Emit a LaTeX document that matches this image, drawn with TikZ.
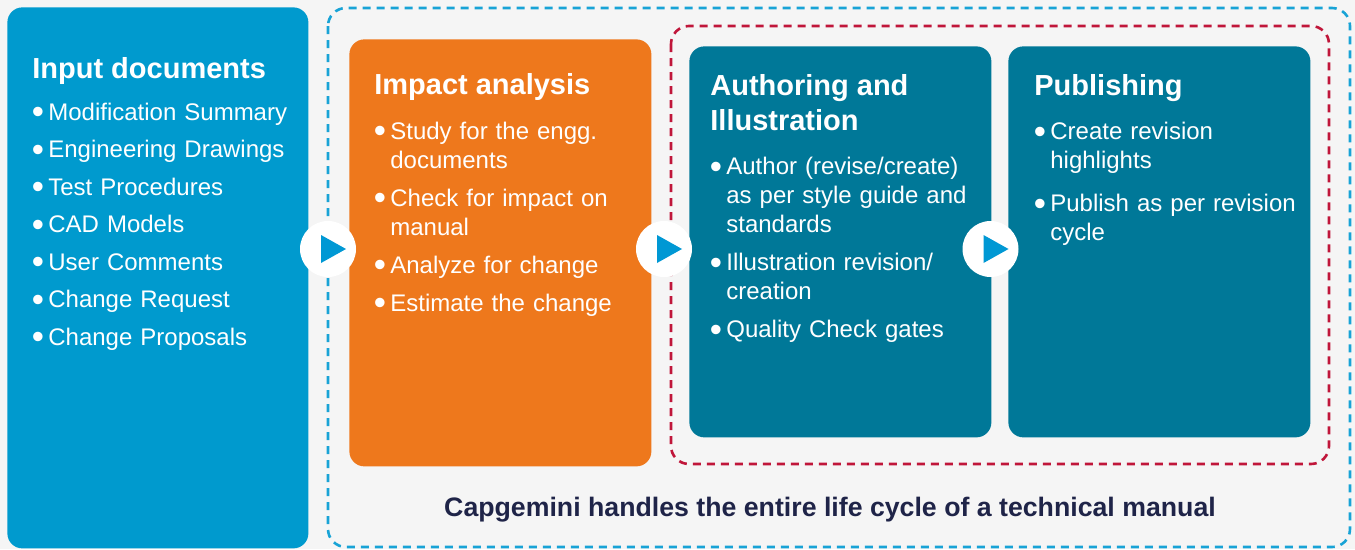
\documentclass[tikz,border=0pt]{standalone}
\usepackage{fontspec}
\setmainfont{Liberation Sans}
\usetikzlibrary{positioning}
\tikzset{every picture/.style={line width=0.75pt}}

\definecolor{bgGray}{RGB}{245,245,245}
\definecolor{inBlue}{RGB}{0,154,206}
\definecolor{impOrange}{RGB}{238,120,28}
\definecolor{tealBox}{RGB}{0,120,152}
\definecolor{dashBlue}{RGB}{24,163,214}
\definecolor{dashRed}{RGB}{192,22,58}
\definecolor{navy}{RGB}{31,36,72}
\definecolor{triBlue}{RGB}{0,152,212}

\newlength{\itmgap}\setlength{\itmgap}{9pt}
\newlength{\ttlgap}\setlength{\ttlgap}{6.5pt}
\newcommand{\bdot}{\makebox[16pt][l]{\hspace{-0.5pt}\raisebox{-3.8pt}{\scalebox{1.45}{\textbullet}}}}
\newcommand{\ttl}[1]{{\fontsize{29}{35}\selectfont\bfseries #1\par}\vspace{\ttlgap}}
\newcommand{\itm}[1]{\vspace{\itmgap}\hangindent=16pt\hangafter=1\noindent\bdot #1\par}

\begin{document}
\begin{tikzpicture}[x=1pt,y=1pt,yscale=-1,xscale=1]

     \tikzstyle{panel} = [rounded corners=15pt,
						anchor = north west,
						inner sep = 0pt,
						draw = none
						]
     \tikzstyle{txt} = [anchor = base west,
						inner sep = 0pt,
						text = white,
						text width = 285pt,
						align = left,
						font = \fontsize{24}{29}\selectfont
						]
     \tikzstyle{frame} = [rounded corners=18pt, line width=2.6pt, dash pattern=on 8pt off 6pt]
     \tikzstyle{disc} = [circle, fill=white, minimum size=56pt, inner sep=0pt]
     \tikzstyle{tip} = [fill=triBlue]

\fill[bgGray] (0,0) rectangle (1355,549);
\useasboundingbox (0,0) rectangle (1355,549);

% dashed frames
\draw[frame, draw=dashBlue] (328,8) rectangle (1350,547);
\draw[frame, draw=dashRed] (671,26) rectangle (1329,464);

\node [panel, fill=inBlue, minimum width=301pt, minimum height=541pt] (input) at (7,7) {};
\node [panel, fill=impOrange, minimum width=302pt, minimum height=427pt] (impact) at (349,39) {};
\node [panel, fill=tealBox, minimum width=302pt, minimum height=391pt] (author) at (689,46) {};
\node [panel, fill=tealBox, minimum width=302pt, minimum height=391pt] (publish) at (1008,46) {};

\node [txt, text width=272pt] (inputTxt) at (32,78) {\setlength{\itmgap}{8.5pt}\setlength{\ttlgap}{4.5pt}\ttl{Input documents}\itm{Modification Summary}\itm{Engineering Drawings}\itm{Test Procedures}\itm{CAD Models}\itm{User Comments}\itm{Change Request}\itm{Change Proposals}};
\node [txt] (impactTxt) at (374,94.5) {\ttl{Impact analysis}\itm{Study for the engg.\newline documents}\itm{Check for impact on\newline manual}\itm{Analyze for change}\itm{Estimate the change}};
\node [txt] (authorTxt) at (710,95) {\ttl{Authoring and\newline Illustration}\itm{Author (revise/create)\newline as per style guide and\newline standards}\itm{Illustration revision/\newline creation}\itm{Quality Check gates}};
\node [txt] (publishTxt) at (1034,95) {\ttl{Publishing}\itm{Create revision\newline highlights}\vspace{5pt}\itm{Publish as per revision\newline cycle}};

\node [disc] (step1) at (328,249) {};
\node [disc] (step2) at (664,249) {};
\node [disc] (step3) at (990.5,249) {};
\fill[tip] (step1.center) ++(-7,-14) -- ++(0,28) -- ++(25,-14) -- cycle;
\fill[tip] (step2.center) ++(-7,-14) -- ++(0,28) -- ++(25,-14) -- cycle;
\fill[tip] (step3.center) ++(-7,-14) -- ++(0,28) -- ++(25,-14) -- cycle;

\node [anchor=base, inner sep=0pt, text=navy, font=\fontsize{26.7}{30}\selectfont\bfseries] (caption) at (830,516.5) {Capgemini handles the entire life cycle of a technical manual};

\end{tikzpicture}
\end{document}
